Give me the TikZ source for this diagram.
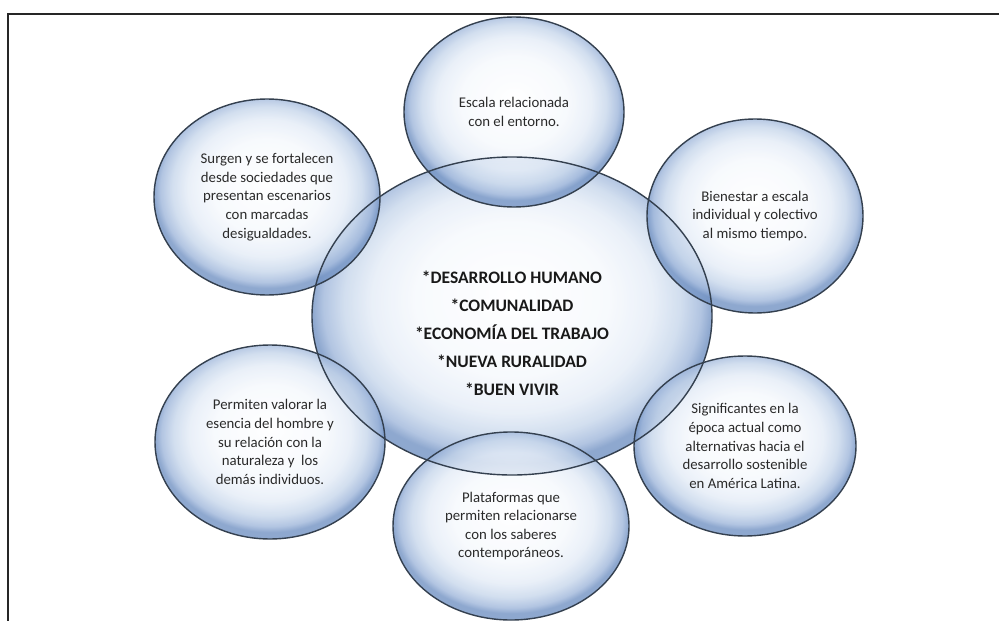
\documentclass[tikz,border=0pt]{standalone}
\usepackage{fontspec}
\setmainfont{Carlito}
\usetikzlibrary{shapes.geometric}
\definecolor{bubA}{HTML}{F6F9FD}
\definecolor{bubB}{HTML}{E4ECF7}
\definecolor{bubC}{HTML}{C6D6EB}
\definecolor{bubE}{HTML}{9DB5DA}
\definecolor{bubD}{HTML}{6F90C2}
\definecolor{bubline}{HTML}{34404F}
\definecolor{txtgray}{HTML}{2A2A2A}
\pgfdeclareradialshading{bubble}{\pgfpoint{0bp}{3.5bp}}{color(0bp)=(white);color(12bp)=(bubA);color(17.5bp)=(bubB);color(21bp)=(bubC);color(23.6bp)=(bubE);color(25bp)=(bubD);color(50bp)=(bubD)}
\begin{document}
\begin{tikzpicture}[x=1pt,y=-1pt,
  bubfill/.style={ellipse, shading=bubble, fill opacity=0.78, inner sep=0pt},
  bubline/.style={ellipse, draw=bubline, line width=1.4pt, inner sep=0pt},
  txt/.style={align=center, font=\fontsize{14.8}{18.6}\selectfont, text=txtgray},
  ctr/.style={align=center, font=\bfseries\fontsize{17.5}{28}\selectfont, text=black!90},
  frame/.style={line width=2.4pt, draw=black!85}]
\useasboundingbox (0,0) rectangle (999,621);
\fill[white] (0,0) rectangle (999,621);
\coordinate (fbl) at (8,630);
\coordinate (ftl) at (8,14);
\coordinate (ftr) at (1010,14);
\draw[frame] (fbl) -- (ftl) -- (ftr);
% ellipse fills
\foreach \n/\x/\y/\w/\h in {centro/512/316/400/318, escala/514/112/220/190, surgen/267/197/226/196, bienestar/755/216/216/194, permiten/270/442/230/194, plataformas/511/526/236/188, significantes/745/446/222/180}
  \node[bubfill, minimum width=\w pt, minimum height=\h pt] (\n) at (\x,\y) {};
% ellipse outlines
\foreach \n/\w/\h in {centro/400/318, escala/220/190, surgen/226/196, bienestar/216/194, permiten/230/194, plataformas/236/188, significantes/222/180}
  \node[bubline, minimum width=\w pt, minimum height=\h pt] (\n-o) at (\n) {};
% texts
\node[ctr] (ctrtext) at (512,333) {*DESARROLLO HUMANO\\*COMUNALIDAD\\*ECONOMÍA DEL TRABAJO\\*NUEVA RURALIDAD\\*BUEN VIVIR};
\node[txt] (t1) at (escala) {Escala relacionada\\con el entorno.};
\node[txt] (t2) at (surgen) {Surgen y se fortalecen\\desde sociedades que\\presentan escenarios\\con marcadas\\desigualdades.};
\node[txt] (t3) at (bienestar) {Bienestar a escala\\individual y colectivo\\al mismo tiempo.};
\node[txt] (t4) at (permiten) {Permiten valorar la\\esencia del hombre y\\su relación con la\\naturaleza y\ \ los\\demás individuos.};
\node[txt] (t5) at (plataformas) {Plataformas que\\permiten relacionarse\\con los saberes\\contemporáneos.};
\node[txt] (t6) at (significantes) {Significantes en la\\época actual como\\alternativas hacia el\\desarrollo sostenible\\en América Latina.};
\end{tikzpicture}
\end{document}
